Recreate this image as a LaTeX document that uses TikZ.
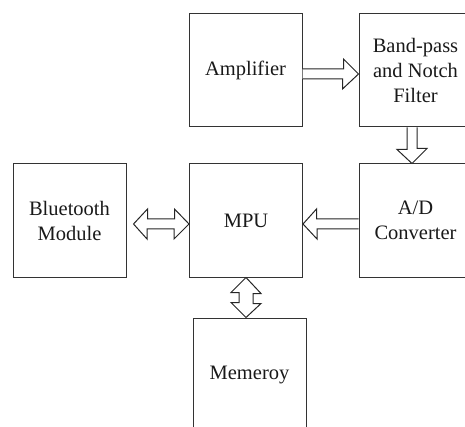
\documentclass[tikz,border=0pt]{standalone}
\usepackage{fontspec}
\setmainfont{Liberation Serif}
\usetikzlibrary{calc}
\begin{document}
\begin{tikzpicture}[x=1pt,y=-1pt,
  blk/.style={draw=black!80,line width=1pt,minimum width=113pt,minimum height=113pt,inner sep=0pt,
    font=\fontsize{20.5}{25}\selectfont,align=center,text=black!90},
  barrow/.style={draw=black!85,line width=1pt,fill=white,line join=miter}]
\useasboundingbox (0,0) rectangle (465,427);
\clip (0,0) rectangle (465,427);
\node[blk] (amp) at (245.5,70.5) {Amplifier};
\node[blk] (bp) at (415.5,70.5) {Band-pass\\and Notch\\Filter};
\node[blk] (ad) at (415.5,220.5) {A/D\\Converter};
\node[blk] (mpu) at (246,220.5) {MPU};
\node[blk] (bt) at (69.5,220.5) {Bluetooth\\Module};
\node[blk] (mem) at (249.5,374.5) {Memeroy};
% Amplifier -> Band-pass
\draw[barrow] ($(amp.east)+(0,-1.5)$) -- ++(41,0) -- ++(0,-10) -- ($(bp.west)+(0,3.5)$)
  -- ++(-16,15) -- ++(0,-10) -- ($(amp.east)+(0,8.5)$);
% Band-pass -> A/D
\draw[barrow] ($(bp.south)+(-8.5,0)$) -- ++(0,22) -- ++(-10,0) -- ($(ad.north)+(-3.5,0)$)
  -- ++(15,-15) -- ++(-10,0) -- ($(bp.south)+(1.5,0)$);
% A/D -> MPU
\draw[barrow] ($(ad.west)+(0,-1.5)$) -- ++(-42,0) -- ++(0,-10) -- ($(mpu.east)+(0,3.5)$)
  -- ++(14,15) -- ++(0,-10) -- ($(ad.west)+(0,8.5)$);
% Bluetooth <-> MPU
\coordinate (btL) at ($(bt.east)+(7,3.5)$);
\coordinate (btR) at ($(mpu.west)+(0,3.5)$);
\draw[barrow] (btL) -- ++(14,-15) -- ++(0,10) -- ++(27,0) -- ++(0,-10) -- (btR)
  -- ++(-15,15) -- ++(0,-10) -- ++(-27,0) -- ++(0,10) -- cycle;
% MPU <-> Memory
\coordinate (mT) at (mpu.south);
\coordinate (mB) at ($(mem.north)+(-3.5,0)$);
\draw[barrow] (mT) -- ++(15,16) -- ++(-8,0) -- ++(0,10) -- ++(8,0) -- (mB)
  -- ++(-15,-15) -- ++(8,0) -- ++(0,-10) -- ++(-8,0) -- cycle;
\end{tikzpicture}
\end{document}
